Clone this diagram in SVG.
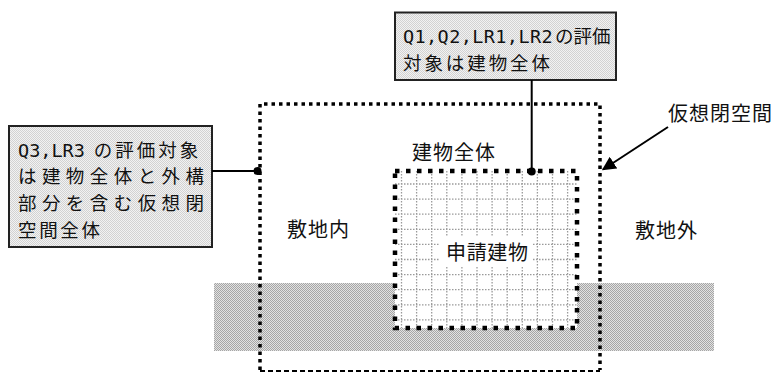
<svg xmlns="http://www.w3.org/2000/svg" width="774" height="373" viewBox="0 0 774 373">
<style>
.jp{font-family:"Noto Sans CJK JP","Noto Sans CJK SC",sans-serif;font-size:20px;fill:#111}
.cj{font-family:"Noto Sans CJK JP","Noto Sans CJK SC",sans-serif;font-size:18.5px;fill:#111}
.mono{font-family:"DejaVu Sans Mono","Liberation Mono",monospace;font-size:18.5px}
.box{fill:url(#lightDither);stroke:#222;stroke-width:2}
.conn{stroke:#000;stroke-width:2;fill:none}
.grid{stroke:#9a9a9a;stroke-width:1.3;stroke-dasharray:1.5 1.5;fill:none}
</style>
<defs>
<pattern id="groundDither" width="2" height="2" patternUnits="userSpaceOnUse">
<rect width="2" height="2" fill="#e2e2e2"/>
<rect width="1" height="1" fill="#a6a6a6"/>
<rect x="1" y="1" width="1" height="1" fill="#a6a6a6"/>
</pattern>
<pattern id="lightDither" width="2" height="2" patternUnits="userSpaceOnUse">
<rect width="2" height="2" fill="#f2f2f2"/>
<rect width="1" height="1" fill="#d2d2d2"/>
<rect x="1" y="1" width="1" height="1" fill="#d2d2d2"/>
</pattern>
<marker id="arrow" viewBox="0 0 10 10" refX="9" refY="5" markerWidth="7" markerHeight="7" orient="auto" markerUnits="strokeWidth">
<path d="M0,0 L10,5 L0,10 z" fill="#000"/>
</marker>
</defs>

<g id="ground">
<rect x="214" y="283" width="500" height="68" fill="url(#groundDither)"/>
</g>

<g id="virtual-closed-space">
<path d="M260,370 V104 H600 V370" fill="none" stroke="#000" stroke-width="3.5" stroke-dasharray="3.5 4"/>
<line x1="260" y1="371" x2="600" y2="371" stroke="#000" stroke-width="2" stroke-dasharray="5 3"/>
</g>

<g id="building">
<rect x="395" y="171" width="182" height="157" fill="#fff"/>
<path class="grid" d="M401.5,171V328 M416.6,171V328 M431.7,171V328 M446.8,171V328 M461.9,171V328 M477,171V328 M492.1,171V328 M507.2,171V328 M522.3,171V328 M537.4,171V328 M552.5,171V328 M567.6,171V328 M395,184H577 M395,199.1H577 M395,214.2H577 M395,229.3H577 M395,244.4H577 M395,259.5H577 M395,274.6H577 M395,289.7H577 M395,304.8H577 M395,319.9H577"/>
<rect x="440" y="236" width="92" height="30" fill="#fff"/>
<rect x="395" y="171" width="182" height="157" fill="none" stroke="#000" stroke-width="4.5" stroke-dasharray="4.5 6.5"/>
<text class="jp" x="446" y="260" textLength="82" lengthAdjust="spacing">申請建物</text>
</g>

<g id="labels">
<text class="jp" x="412" y="160" textLength="83" lengthAdjust="spacing">建物全体</text>
<text class="jp" x="287" y="237" textLength="62" lengthAdjust="spacing">敷地内</text>
<text class="jp" x="635" y="238" textLength="62" lengthAdjust="spacing">敷地外</text>
<text class="jp" x="668" y="121" textLength="104" lengthAdjust="spacing">仮想閉空間</text>
</g>

<g id="callout-top">
<rect class="box" x="395" y="12.5" width="221" height="67.5"/>
<text class="cj" x="403" y="43"><tspan class="mono" letter-spacing="0.4">Q1,Q2,LR1,LR2</tspan><tspan dx="2">の評価</tspan></text>
<text class="cj" x="403" y="70" textLength="147" lengthAdjust="spacing">対象は建物全体</text>
</g>

<g id="callout-left">
<rect class="box" x="9" y="126" width="203" height="121"/>
<text class="cj" x="18" y="156.5"><tspan class="mono">Q3,LR3</tspan><tspan dx="9" letter-spacing="3">の評価対象</tspan></text>
<text class="cj" x="18" y="183.3" textLength="186" lengthAdjust="spacing">は建物全体と外構</text>
<text class="cj" x="18" y="210.1" textLength="186" lengthAdjust="spacing">部分を含む仮想閉</text>
<text class="cj" x="18" y="236.9" textLength="82" lengthAdjust="spacing">空間全体</text>
</g>

<g id="connectors">
<line class="conn" x1="531.7" y1="80" x2="531.7" y2="171"/>
<circle cx="531.7" cy="171.5" r="4" fill="#000"/>
<line class="conn" x1="212" y1="171" x2="257" y2="171"/>
<circle cx="257.5" cy="171" r="4" fill="#000"/>
<line class="conn" x1="668" y1="127" x2="603" y2="169.5" marker-end="url(#arrow)"/>
</g>
</svg>
